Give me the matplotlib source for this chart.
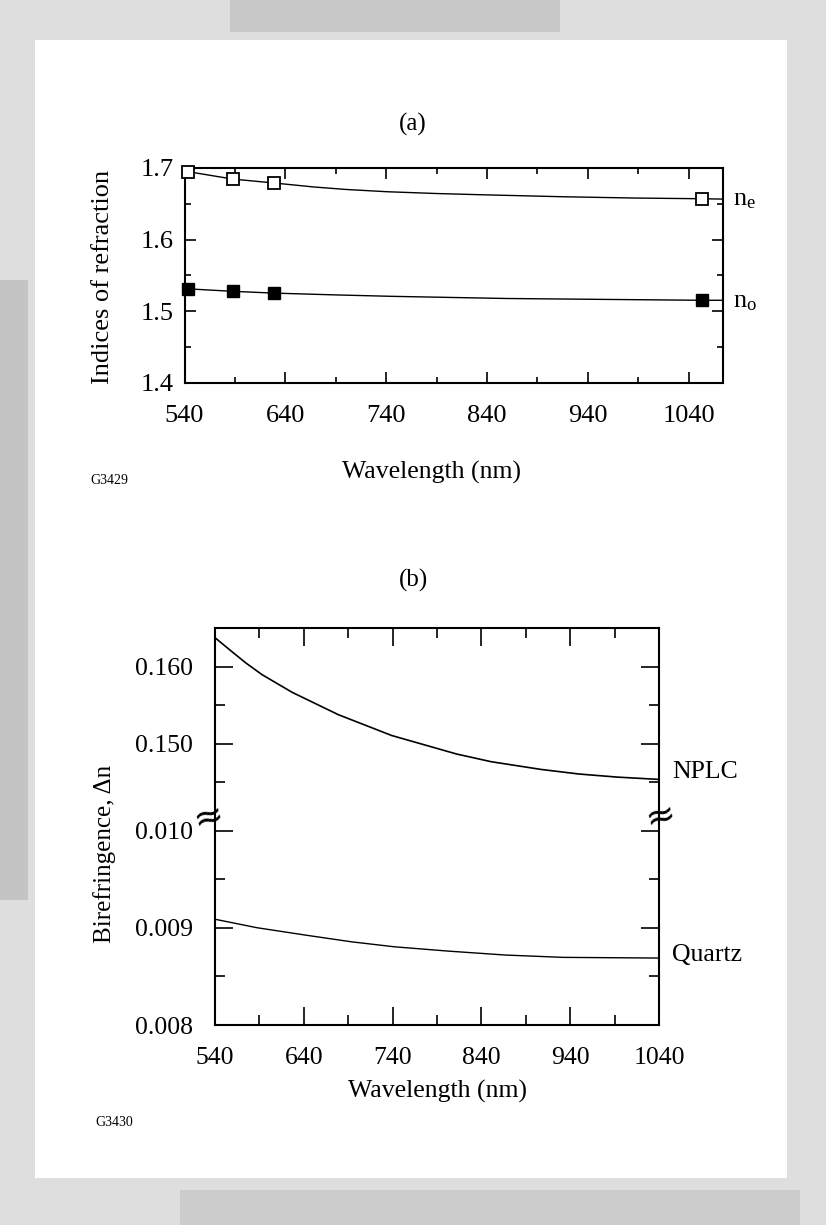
import matplotlib
matplotlib.use("Agg")
import matplotlib.pyplot as plt
from matplotlib.patches import Rectangle
from matplotlib.ticker import FixedLocator, FormatStrFormatter

plt.rcParams['font.family'] = ['Liberation Serif', 'DejaVu Serif']
plt.rcParams['mathtext.fontset'] = 'custom'
plt.rcParams['mathtext.rm'] = 'Liberation Serif'
plt.rcParams['mathtext.it'] = 'Liberation Serif:italic'

# (a) indices of refraction, measured points
marker_wl = [543, 588, 629, 1053]
ne_pts = [1.695, 1.6845, 1.679, 1.657]
no_pts = [1.531, 1.5275, 1.525, 1.515]
# (a) fitted curves
ne_curve_wl = [543, 588, 629, 668, 700, 741, 790, 837, 915, 986, 1053, 1074]
ne_curve = [1.695, 1.6845, 1.679, 1.6735, 1.6700, 1.6668, 1.6643, 1.6625, 1.6598, 1.6580, 1.657, 1.6565]
no_curve_wl = [543, 588, 629, 690, 746, 859, 950, 1053, 1074]
no_curve = [1.531, 1.5275, 1.525, 1.5225, 1.5205, 1.5175, 1.5163, 1.515, 1.515]

# (b) birefringence
nplc_wl = [540, 560, 575, 593, 627, 679, 739, 812, 851, 907, 950, 993, 1040]
nplc_dn = [0.1638, 0.1619, 0.1605, 0.1590, 0.1567, 0.1538, 0.1511, 0.1487, 0.1477, 0.1467, 0.1461, 0.1457, 0.1454]
quartz_wl = [540, 587, 643, 694, 742, 802, 867, 932, 1040]
quartz_dn = [0.00909, 0.009003, 0.008925, 0.008857, 0.008806, 0.008762, 0.008721, 0.008697, 0.00869]

x_major = [540, 640, 740, 840, 940, 1040]
x_minor = [590, 690, 790, 890, 990]

W, H = 826, 1225


def box(l, t, r, b):
    return [l / W, 1 - b / H, (r - l) / W, (b - t) / H]


def ftext(x, y, s, **kw):
    fig.text(x / W, 1 - y / H, s, ha=kw.pop('ha', 'center'), va=kw.pop('va', 'center'), **kw)


fig = plt.figure(figsize=(W / 100, H / 100), dpi=100)
fig.patch.set_facecolor('#dedede')
# scanned page look: white sheet on grey margins
fig.patches.append(Rectangle((35 / W, 1 - 1178 / H), 752 / W, 1138 / H, transform=fig.transFigure,
                             facecolor='white', edgecolor='none', zorder=-10))
fig.patches.append(Rectangle((0, 1 - 900 / H), 28 / W, 620 / H, transform=fig.transFigure,
                             facecolor='#c4c4c4', edgecolor='none', zorder=-9))
fig.patches.append(Rectangle((230 / W, 1 - 32 / H), 330 / W, 32 / H, transform=fig.transFigure,
                             facecolor='#c8c8c8', edgecolor='none', zorder=-9))
fig.patches.append(Rectangle((180 / W, 0), 620 / W, 35 / H, transform=fig.transFigure,
                             facecolor='#cccccc', edgecolor='none', zorder=-9))

lw_frame = 1.5

# ---------- (a) ----------
ax = fig.add_axes(box(184.5, 168, 723, 382.5))
ax.plot(ne_curve_wl, ne_curve, color='black', lw=1.0, clip_on=False)
ax.plot(no_curve_wl, no_curve, color='black', lw=1.0, clip_on=False)
ax.plot(marker_wl, ne_pts, 's', ms=8, mfc='white', mec='black', mew=1.3, clip_on=False, zorder=5)
ax.plot(marker_wl, no_pts, 's', ms=8, mfc='black', mec='black', clip_on=False, zorder=5)
ax.set_xlim(540, 1074)
ax.set_ylim(1.4, 1.7)
ax.xaxis.set_major_locator(FixedLocator(x_major))
ax.xaxis.set_minor_locator(FixedLocator(x_minor))
ax.yaxis.set_major_locator(FixedLocator([1.4, 1.5, 1.6, 1.7]))
ax.yaxis.set_minor_locator(FixedLocator([1.45, 1.55, 1.65]))
ax.yaxis.set_major_formatter(FormatStrFormatter('%.1f'))
ax.tick_params(which='both', direction='in', top=True, right=True, width=1.2, labelsize=19)
ax.tick_params(which='major', length=8)
ax.tick_params(which='minor', length=4.5)
ax.tick_params(axis='x', pad=16)
ax.tick_params(axis='y', pad=8)
for s in ax.spines.values():
    s.set_linewidth(lw_frame)

ftext(413, 124, '(a)', fontsize=18)
ftext(103, 277, 'Indices of refraction', fontsize=19, rotation=90)
ftext(432, 472, 'Wavelength (nm)', fontsize=18.5)
ftext(90, 481, 'G3429', fontsize=10, ha='left')
ftext(733, 200, r'n$_\mathrm{e}$', fontsize=19, ha='left')
ftext(733, 302, r'n$_\mathrm{o}$', fontsize=19, ha='left')

# ---------- (b) ----------
brk = 816
ax_t = fig.add_axes(box(215, 628, 659, brk))
ax_b = fig.add_axes(box(215, brk, 659, 1025))

ax_t.plot(nplc_wl, nplc_dn, color='black', lw=1.2)
ax_b.plot(quartz_wl, quartz_dn, color='black', lw=1.0)

ax_t.set_ylim(0.14065, 0.16506)
ax_b.set_ylim(0.008, 0.010154)
for a in (ax_t, ax_b):
    a.set_xlim(540, 1040)
    a.xaxis.set_major_locator(FixedLocator(x_major))
    a.xaxis.set_minor_locator(FixedLocator(x_minor))
    a.yaxis.set_major_formatter(FormatStrFormatter('%.3f'))
    a.tick_params(which='both', direction='in', right=True, width=1.2, labelsize=18.5)
    a.tick_params(which='major', length=13)
    a.tick_params(which='minor', length=7)
    a.tick_params(axis='y', pad=16)
    for s in a.spines.values():
        s.set_linewidth(lw_frame)

ax_t.yaxis.set_major_locator(FixedLocator([0.150, 0.160]))
ax_t.yaxis.set_minor_locator(FixedLocator([0.145, 0.155]))
ax_t.tick_params(which='both', top=True, bottom=False, labelbottom=False)
ax_t.spines['bottom'].set_visible(False)

ax_b.yaxis.set_major_locator(FixedLocator([0.008, 0.009, 0.010]))
ax_b.yaxis.set_minor_locator(FixedLocator([0.0085, 0.0095]))
ax_b.tick_params(which='both', top=False, bottom=True)
ax_b.tick_params(axis='x', pad=16)
ax_b.spines['top'].set_visible(False)

# axis break marks
ftext(208, 818, '≈', fontsize=26, rotation=15, family='DejaVu Sans')
ftext(660, 817, '≈', fontsize=26, rotation=15, family='DejaVu Sans')

ftext(413, 580, '(b)', fontsize=18)
ftext(105, 854, 'Birefringence, Δn', fontsize=18, rotation=90)
ftext(438, 1091, 'Wavelength (nm)', fontsize=18.5)
ftext(95, 1122, 'G3430', fontsize=10, ha='left')
ftext(672, 772, 'NPLC', fontsize=18.5, ha='left')
ftext(672, 955, 'Quartz', fontsize=18.5, ha='left')

fig.savefig('out.png', dpi=100, facecolor=fig.get_facecolor())
